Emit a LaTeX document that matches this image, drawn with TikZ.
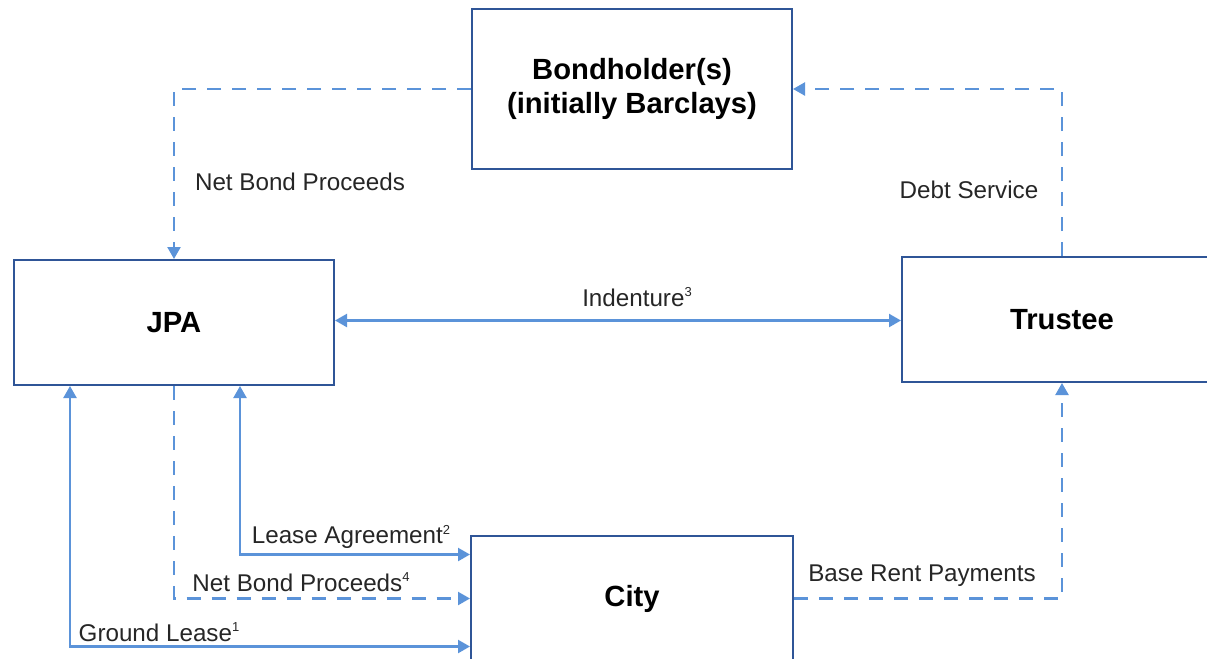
\documentclass[tikz,border=0pt]{standalone}
\usepackage{fontspec}
\setmainfont{Liberation Sans}
\usetikzlibrary{arrows.meta}
\definecolor{boxblue}{HTML}{2F5597}
\definecolor{lineblue}{HTML}{5B93D9}
\newcommand\supnum[1]{\raisebox{0.75ex}{\fontsize{6.5}{7}\selectfont#1}}
\begin{document}
\begin{tikzpicture}[x=0.5pt,y=-0.5pt,
    party/.style={draw=boxblue,line width=1pt,minimum width=160pt,minimum height=62.5pt,
        font=\fontsize{14.6}{17}\selectfont\bfseries,align=center},
    deal/.style={lineblue,line width=1.15pt,>={Triangle[length=6pt,width=6.5pt]}},
    cash/.style={deal,dash pattern=on 7pt off 5.5pt},
    lbl/.style={font=\fontsize{12.1}{14}\selectfont,text=black!85,inner sep=0pt}]
    \useasboundingbox (0,0) rectangle (1207,659);
    \clip (0,0) rectangle (1207,659);
    % parties
    \node[party,minimum height=80pt] (bond) at (632,89) {Bondholder(s)\\(initially Barclays)};
    \node[party] (jpa) at (174,322.5) {JPA};
    \node[party] (trustee) at (1062,319.5) {Trustee};
    \node[party,minimum width=161pt] (city) at (632,598.5) {City};
    % flows of money
    \draw[cash,->] (bond.west) -| (jpa.north);
    \draw[cash,->] (trustee.north) |- (bond.east);
    \draw[cash,->] (jpa.south) |- (city.west);
    \draw[cash,->] (city.east) -| (trustee.south);
    % agreements
    \draw[deal,<->] ([yshift=1pt]jpa.east) -- ([yshift=1pt]jpa.east -| trustee.west);
    \draw[deal,<->] ([xshift=33pt]jpa.south) |- ([yshift=22pt]city.west);
    \draw[deal,<->] ([xshift=-52pt]jpa.south) |- ([yshift=-24pt]city.west);
    % labels
    \node[lbl] (nbp) at (300,182) {Net Bond Proceeds};
    \node[lbl] (debt) at (969,190) {Debt Service};
    \node[lbl] (indent) at (637,297) {Indenture\supnum{3}};
    \node[lbl] (lease) at (351,537) {Lease Agreement\supnum{2}};
    \node[lbl] (nbpcity) at (301,582) {Net Bond Proceeds\supnum{4}};
    \node[lbl] (ground) at (159,632) {Ground Lease\supnum{1}};
    \node[lbl] (rent) at (922,576) {Base Rent Payments};
\end{tikzpicture}
\end{document}
